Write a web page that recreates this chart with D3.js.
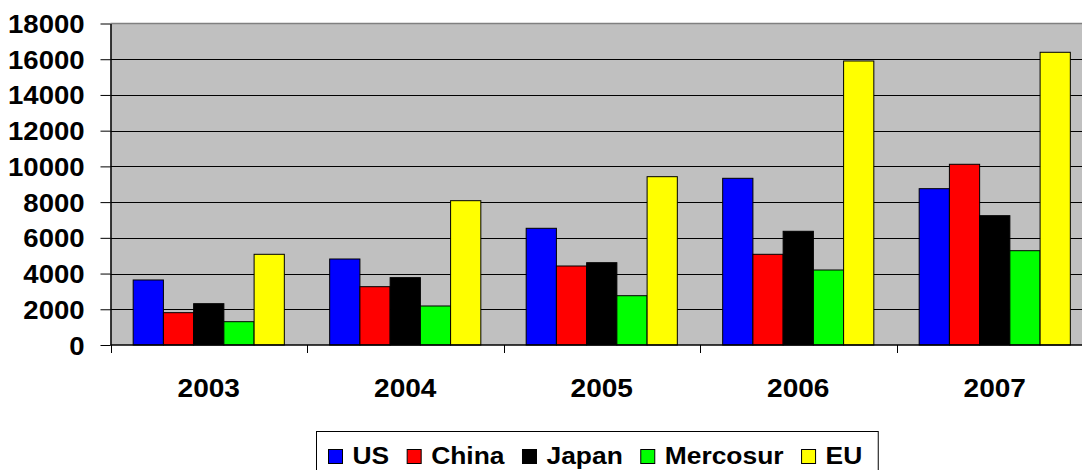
<!DOCTYPE html>
<html>
<head>
<meta charset="utf-8">
<script src="https://cdn.jsdelivr.net/npm/d3@7"></script>
<style>
  html, body { margin: 0; padding: 0; background: #fff; overflow: hidden; }
  svg { display: block; }
  text { font-family: "Liberation Sans", Arial, sans-serif; font-weight: bold; fill: #000; }
</style>
</head>
<body>
<svg id="chart" width="1082" height="470"></svg>
<script>
// Categories and series
const years = ["2003", "2004", "2005", "2006", "2007"];
const seriesNames = ["US", "China", "Japan", "Mercosur", "EU"];
const seriesColors = ["#0000FF", "#FF0000", "#000000", "#00FF00", "#FFFF00"];

const US       = [3640, 4815, 6534, 9333, 8752];
const China    = [1810, 3265, 4423, 5078, 10118];
const Japan    = [2313, 3770, 4608, 6366, 7240];
const Mercosur = [1305, 2184, 2760, 4199, 5280];
const EU       = [5078, 8080, 9424, 15901, 16388];

const yTicks = [0, 2000, 4000, 6000, 8000, 10000, 12000, 14000, 16000, 18000];

const seriesValues = [US, China, Japan, Mercosur, EU];

// Layout
const plot = { left: 110.5, right: 1093, top: 23.5, bottom: 345 };
const stretch = 1.1; // horizontal text stretch

const svg = d3.select("#chart");

const x0 = d3.scaleBand().domain(years).range([plot.left, plot.right]).padding(0);
const x1 = d3.scaleBand().domain(seriesNames).range([0, x0.bandwidth()])
  .paddingInner(0).paddingOuter(0.75);
const y = d3.scaleLinear().domain([0, 18000]).range([plot.bottom, plot.top]);

// Plot background
svg.append("rect")
  .attr("x", plot.left).attr("y", plot.top)
  .attr("width", plot.right - plot.left).attr("height", plot.bottom - plot.top)
  .attr("fill", "#C0C0C0");

// Top border
svg.append("line")
  .attr("x1", plot.left).attr("x2", plot.right)
  .attr("y1", plot.top).attr("y2", plot.top)
  .attr("stroke", "#808080").attr("stroke-width", 1.5);

// Gridlines
svg.append("g").selectAll("line")
  .data(yTicks.filter(t => t > 0 && t < 18000))
  .join("line")
  .attr("x1", plot.left).attr("x2", plot.right)
  .attr("y1", d => Math.round(y(d)) + 0.5).attr("y2", d => Math.round(y(d)) + 0.5)
  .attr("stroke", "#000").attr("stroke-width", 1);

// Bars
const rows = years.map((yr, i) => ({
  year: yr,
  vals: seriesNames.map((s, j) => ({ name: s, value: seriesValues[j][i], color: seriesColors[j] }))
}));

svg.append("g").selectAll("g")
  .data(rows)
  .join("g")
  .attr("transform", d => `translate(${x0(d.year)},0)`)
  .selectAll("rect")
  .data(d => d.vals)
  .join("rect")
  .attr("x", d => x1(d.name))
  .attr("y", d => y(d.value))
  .attr("width", x1.bandwidth())
  .attr("height", d => y(0) - y(d.value))
  .attr("fill", d => d.color)
  .attr("stroke", "#000")
  .attr("stroke-width", 1);

// Y axis
const yAxis = svg.append("g")
  .attr("transform", `translate(${plot.left},0)`)
  .call(d3.axisLeft(y).tickValues(yTicks).tickSize(10).tickSizeOuter(0).tickFormat(d3.format("d")));
yAxis.select(".domain").attr("stroke", "#000").attr("stroke-width", 1.5);
yAxis.selectAll(".tick line").attr("stroke", "#000").attr("stroke-width", 1);
yAxis.selectAll(".tick text")
  .attr("x", null).attr("dy", null)
  .attr("transform", `translate(-26,9) scale(${stretch},1)`)
  .attr("text-anchor", "end")
  .style("font-size", "25px")
  .style("font-family", "'Liberation Sans', Arial, sans-serif")
  .style("font-weight", "bold");

// X axis: ticks at category boundaries
const xAxisG = svg.append("g").attr("transform", `translate(0,${plot.bottom})`);
xAxisG.append("line")
  .attr("x1", plot.left).attr("x2", plot.right)
  .attr("y1", 0).attr("y2", 0)
  .attr("stroke", "#000").attr("stroke-width", 1.5);
const boundaries = years.map(yr => x0(yr)).concat([x0(years[years.length - 1]) + x0.bandwidth()]);
xAxisG.selectAll("line.tk")
  .data(boundaries)
  .join("line")
  .attr("class", "tk")
  .attr("x1", d => Math.round(d) + 0.5).attr("x2", d => Math.round(d) + 0.5)
  .attr("y1", 0).attr("y2", 8)
  .attr("stroke", "#000").attr("stroke-width", 1);
xAxisG.selectAll("text")
  .data(years)
  .join("text")
  .attr("transform", d => `translate(${x0(d) + x0.bandwidth() / 2},52) scale(${stretch},1)`)
  .attr("text-anchor", "middle")
  .style("font-size", "25.5px")
  .text(d => d);

// Legend
const legend = svg.append("g");
const legendBox = legend.append("rect")
  .attr("x", 316.5).attr("y", 431.5)
  .attr("height", 60)
  .attr("fill", "#fff").attr("stroke", "#000").attr("stroke-width", 1);

let cx = 328.5;
seriesNames.forEach((name, i) => {
  legend.append("rect")
    .attr("x", cx).attr("y", 449.5)
    .attr("width", 14).attr("height", 14)
    .attr("fill", seriesColors[i]).attr("stroke", "#000").attr("stroke-width", 1);
  const tx = cx + 24;
  const t = legend.append("text")
    .attr("transform", `translate(${tx},464) scale(${stretch},1)`)
    .style("font-size", "24px")
    .text(name);
  const w = t.node().getComputedTextLength() * stretch;
  if (i === seriesNames.length - 1) {
    legendBox.attr("width", tx + w + 16 - 316.5);
  }
  cx = tx + w + 18;
});
</script>
</body>
</html>
